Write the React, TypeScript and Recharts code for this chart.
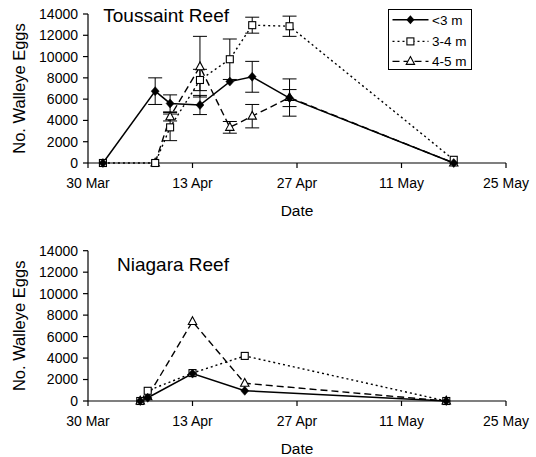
import React from 'react';
import { LineChart, Line, XAxis, YAxis, ErrorBar, Legend } from 'recharts';

// ---- data ----
const xTickValues = [0, 14, 28, 42, 56];
const xTickLabels = ['30 Mar', '13 Apr', '27 Apr', '11 May', '25 May'];
const yTicks = [0, 2000, 4000, 6000, 8000, 10000, 12000, 14000];

const seriesNames = ['<3 m', '3-4 m', '4-5 m'];

// Toussaint Reef (days after 30 Mar)
const topDays = [2, 9, 11, 15, 19, 22, 27, 49];
const topShallow = [0, 6750, 5600, 5450, 7650, 8100, 6100, 0];
const topShallowErr = [null, 1250, 800, 900, null, 1450, 800, null];
const topMid = [0, 0, 3350, 7800, 9750, 12950, 12850, 300];
const topMidErr = [null, null, 1250, 1000, 1900, 750, 950, null];
const topDeep = [null, 0, 4350, 9050, 3350, 4400, 6150, 0];
const topDeepErr = [null, null, 400, 2850, 550, 1100, 1750, null];

// Niagara Reef
const botDays = [7, 8, 14, 21, 48];
const botShallow = [0, 300, 2550, 950, 0];
const botMid = [0, 950, 2600, 4200, 0];
const botDeep = [0, 400, 7400, 1650, 0];

const topData = topDays.map((d, i) => ({
  day: d,
  s: topShallow[i],
  se: topShallowErr[i],
  m: topMid[i],
  me: topMidErr[i],
  d: topDeep[i],
  de: topDeepErr[i],
}));

const botData = botDays.map((d, i) => ({
  day: d,
  s: botShallow[i],
  m: botMid[i],
  d: botDeep[i],
}));

const FONT = '"Liberation Sans", Arial, Helvetica, sans-serif';

// ---- markers ----
const diamondPath = (cx: number, cy: number) =>
  `M${cx},${cy - 4.5}L${cx + 4},${cy}L${cx},${cy + 4.5}L${cx - 4},${cy}Z`;
const trianglePath = (cx: number, cy: number) =>
  `M${cx},${cy - 4.8}L${cx + 4.2},${cy + 3}L${cx - 4.2},${cy + 3}Z`;

const DiamondDot = (props: any) => {
  const { cx, cy, index } = props;
  if (cx == null || cy == null || isNaN(cy)) return <g key={`dd${index}`} />;
  return <path key={`dd${index}`} d={diamondPath(cx, cy)} fill="#000" stroke="#000" strokeWidth={0.5} />;
};
const SquareDot = (props: any) => {
  const { cx, cy, index } = props;
  if (cx == null || cy == null || isNaN(cy)) return <g key={`sd${index}`} />;
  return <rect key={`sd${index}`} x={cx - 3.5} y={cy - 3.5} width={7} height={7} fill="#fff" stroke="#000" strokeWidth={1.1} />;
};
const TriangleDot = (props: any) => {
  const { cx, cy, index } = props;
  if (cx == null || cy == null || isNaN(cy)) return <g key={`td${index}`} />;
  return <path key={`td${index}`} d={trianglePath(cx, cy)} fill="#fff" stroke="#000" strokeWidth={1.1} />;
};

const dashes = ['', '2 3', '7 4'];

const renderLegend = () => {
  const rows = [10.7, 32.4, 52.4];
  return (
    <svg width={84} height={61} style={{ display: 'block', overflow: 'visible' }}>
      <rect x={0.5} y={0.5} width={83} height={60} fill="#fff" stroke="#000" strokeWidth={1} />
      {seriesNames.map((name, i) => {
        const y = rows[i];
        return (
          <g key={name}>
            <line x1={4.5} x2={40.5} y1={y} y2={y} stroke="#000" strokeWidth={i === 0 ? 1.4 : 1.3} strokeDasharray={dashes[i] || undefined} />
            {i === 0 && <path d={diamondPath(22.4, y)} fill="#000" />}
            {i === 1 && <rect x={22.4 - 3.5} y={y - 3.5} width={7} height={7} fill="#fff" stroke="#000" strokeWidth={1.1} />}
            {i === 2 && <path d={trianglePath(22.4, y)} fill="#fff" stroke="#000" strokeWidth={1.1} />}
            <text x={44} y={y + 4.8} fontSize={13.5} fontFamily={FONT} fill="#000">{name}</text>
          </g>
        );
      })}
    </svg>
  );
};

const axisCommon = {
  stroke: '#000',
};

function Panel({ data, withErr, withLegend, height, marginTop }: any) {
  return (
    <LineChart
      width={536}
      height={height}
      data={data}
      margin={{ top: marginTop, right: 30, left: 0, bottom: 4 }}
      style={{ fontFamily: FONT }}
    >
      <XAxis
        type="number"
        dataKey="day"
        domain={[0, 56]}
        ticks={xTickValues}
        tickFormatter={(v: number) => xTickLabels[xTickValues.indexOf(v)]}
        height={58}
        tickSize={5}
        tickMargin={10}
        axisLine={{ ...axisCommon, strokeWidth: 1.2 }}
        tickLine={{ ...axisCommon, strokeWidth: 1.2 }}
        tick={{ fill: '#000', fontSize: 14, fontFamily: FONT }}
        label={{ value: 'Date', position: 'insideBottom', offset: 5, fill: '#000', fontSize: 15.5, fontFamily: FONT }}
        interval={0}
      />
      <YAxis
        type="number"
        domain={[0, 14000]}
        ticks={yTicks}
        width={88}
        tickSize={5}
        tickMargin={5}
        axisLine={{ ...axisCommon, strokeWidth: 1.2 }}
        tickLine={{ ...axisCommon, strokeWidth: 1.2 }}
        tick={{ fill: '#000', fontSize: 14, fontFamily: FONT }}
        interval={0}
        label={{
          value: 'No. Walleye Eggs',
          angle: -90,
          position: 'insideLeft',
          offset: 19,
          fill: '#000',
          fontSize: 16.5,
          fontFamily: FONT,
          style: { textAnchor: 'middle' },
        }}
      />
      {withLegend && (
        <Legend
          layout="horizontal"
          verticalAlign="middle"
          align="center"
          content={renderLegend}
          wrapperStyle={{ position: 'absolute', left: 388, top: 9, width: 84, height: 61 }}
        />
      )}
      <Line
        type="linear"
        dataKey="d"
        name={seriesNames[2]}
        stroke="#000"
        strokeWidth={1.4}
        strokeDasharray="7 4"
        dot={TriangleDot}
        activeDot={false}
        connectNulls
        isAnimationActive={false}
      >
        {withErr && <ErrorBar dataKey="de" width={7} stroke="#000" strokeWidth={1} direction="y" />}
      </Line>
      <Line
        type="linear"
        dataKey="m"
        name={seriesNames[1]}
        stroke="#000"
        strokeWidth={1.4}
        strokeDasharray="2 3"
        dot={SquareDot}
        activeDot={false}
        connectNulls
        isAnimationActive={false}
      >
        {withErr && <ErrorBar dataKey="me" width={7} stroke="#000" strokeWidth={1} direction="y" />}
      </Line>
      <Line
        type="linear"
        dataKey="s"
        name={seriesNames[0]}
        stroke="#000"
        strokeWidth={1.5}
        dot={DiamondDot}
        activeDot={false}
        connectNulls
        isAnimationActive={false}
      >
        {withErr && <ErrorBar dataKey="se" width={7} stroke="#000" strokeWidth={1} direction="y" />}
      </Line>
    </LineChart>
  );
}

export default function App() {
  return (
    <div style={{ position: 'absolute', left: 0, top: 0, width: 536, height: 457, background: '#fff', fontFamily: FONT }}>
      <div style={{ position: 'absolute', left: 0, top: 0 }}>
        <Panel data={topData} withErr withLegend height={225} marginTop={14} />
      </div>
      <div style={{ position: 'absolute', left: 0, top: 236 }}>
        <Panel data={botData} withErr={false} withLegend={false} height={227} marginTop={14.7} />
      </div>
      <svg width={536} height={457} style={{ position: 'absolute', left: 0, top: 0, pointerEvents: 'none' }}>
        <text x={103.3} y={21.7} fontSize={19} fontFamily={FONT} fill="#000">Toussaint Reef</text>
        <text x={117} y={271} fontSize={19} fontFamily={FONT} fill="#000">Niagara Reef</text>
      </svg>
    </div>
  );
}
